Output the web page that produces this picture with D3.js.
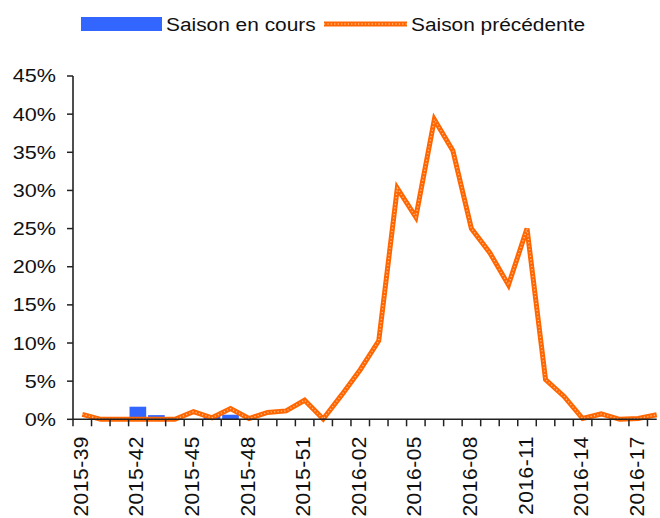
<!DOCTYPE html>
<html>
<head>
<meta charset="utf-8">
<script src="https://cdn.jsdelivr.net/npm/d3@7"></script>
<style>
  html, body { margin: 0; padding: 0; background: #fff; }
  svg { display: block; font-family: "Liberation Sans", Arial, sans-serif; }
</style>
</head>
<body>
<svg id="chart" width="660" height="518"></svg>
<script>
const weeks = [
  "2015-39","2015-40","2015-41","2015-42","2015-43","2015-44","2015-45","2015-46",
  "2015-47","2015-48","2015-49","2015-50","2015-51","2015-52","2016-01","2016-02",
  "2016-03","2016-04","2016-05","2016-06","2016-07","2016-08","2016-09","2016-10",
  "2016-11","2016-12","2016-13","2016-14","2016-15","2016-16","2016-17","2016-18"
];
// Saison en cours (%), only first weeks available
const currentSeason = [0, 0, 0, 1.65, 0.55, 0, 0, 0.5, 0.6, 0];
// Saison précédente (%)
const previousSeason = [
  0.65, 0, 0, 0, 0, 0, 1.0, 0.2, 1.4, 0.1, 0.9, 1.1, 2.5, 0.05, 3.2, 6.5,
  10.3, 30.3, 26.5, 39.3, 35.2, 25.0, 21.8, 17.6, 25.0, 5.2, 3.0, 0.1, 0.7, 0.0, 0.1, 0.6
];
const yTicks = [0, 5, 10, 15, 20, 25, 30, 35, 40, 45];
const labelEvery = 3;
const legendLabels = ["Saison en cours", "Saison précédente"];

const BLUE = "#3366FF";
const ORANGE = "#FF6600";
const DOTS = "#FFC9A0";
const AXIS = "#222";

const svg = d3.select("#chart");
const pLeft = 73, pRight = 666, pTop = 76, pBottom = 419.3;

const x = d3.scaleBand().domain(weeks).range([pLeft, pRight]).paddingInner(0).paddingOuter(0);
const y = d3.scaleLinear().domain([0, 45]).range([pBottom, pTop]);
const bw = x.bandwidth();
const cx = d => x(d) + bw / 2;

// Bars (current season)
const barW = bw * 0.9;
svg.append("g").selectAll("rect")
  .data(currentSeason.map((v, i) => ({ w: weeks[i], v })))
  .join("rect")
  .attr("x", d => cx(d.w) - barW / 2)
  .attr("y", d => y(d.v))
  .attr("width", barW)
  .attr("height", d => y(0) - y(d.v))
  .attr("fill", BLUE);

// Line (previous season)
const lineData = previousSeason.map((v, i) => ({ w: weeks[i], v }));
const line = d3.line().x(d => cx(d.w)).y(d => y(d.v));
svg.append("path").datum(lineData).attr("d", line)
  .attr("fill", "none").attr("stroke", ORANGE).attr("stroke-width", 5)
  .attr("stroke-linejoin", "miter");
svg.append("path").datum(lineData).attr("d", line)
  .attr("fill", "none").attr("stroke", DOTS).attr("stroke-width", 1.4)
  .attr("stroke-dasharray", "1.2 2.2").attr("opacity", 0.85);

// Y axis
const yAxis = svg.append("g");
yAxis.append("line").attr("x1", pLeft).attr("x2", pLeft).attr("y1", y(45)).attr("y2", y(0))
  .attr("stroke", AXIS).attr("stroke-width", 1.6);
yAxis.selectAll("line.tick").data(yTicks).join("line").attr("class", "tick")
  .attr("x1", pLeft - 6).attr("x2", pLeft).attr("y1", d => y(d)).attr("y2", d => y(d))
  .attr("stroke", AXIS).attr("stroke-width", 1.5);
yAxis.selectAll("text").data(yTicks).join("text")
  .attr("transform", d => `translate(56,${y(d)}) scale(1.2,1)`)
  .attr("text-anchor", "end").attr("dy", "0.36em")
  .attr("font-size", 18).attr("fill", "#111")
  .text(d => d + "%");

// X axis
const xAxis = svg.append("g");
xAxis.append("line").attr("x1", pLeft).attr("x2", cx(weeks[weeks.length - 1]))
  .attr("y1", pBottom).attr("y2", pBottom).attr("stroke", AXIS).attr("stroke-width", 1.6);
xAxis.selectAll("line.tick").data(weeks).join("line").attr("class", "tick")
  .attr("x1", d => x(d)).attr("x2", d => x(d))
  .attr("y1", pBottom).attr("y2", pBottom + 7)
  .attr("stroke", AXIS).attr("stroke-width", 1.5);
xAxis.selectAll("text").data(weeks.filter((d, i) => i % labelEvery === 0)).join("text")
  .attr("transform", d => `translate(${cx(d) + 5.5},436) rotate(-90)`)
  .attr("text-anchor", "end")
  .attr("font-size", 21).attr("letter-spacing", "0.5px").attr("fill", "#111")
  .text(d => d);

// Legend
const lg = svg.append("g");
lg.append("rect").attr("x", 81).attr("y", 17).attr("width", 81).attr("height", 14).attr("fill", BLUE);
lg.append("text").attr("transform", "translate(166,31) scale(1.16,1)")
  .attr("font-size", 18).attr("fill", "#111").text(legendLabels[0]);
lg.append("line").attr("x1", 324).attr("x2", 407).attr("y1", 24).attr("y2", 24)
  .attr("stroke", ORANGE).attr("stroke-width", 5);
lg.append("line").attr("x1", 324).attr("x2", 407).attr("y1", 24).attr("y2", 24)
  .attr("stroke", DOTS).attr("stroke-width", 1.4).attr("stroke-dasharray", "1.2 2.2").attr("opacity", 0.85);
lg.append("text").attr("transform", "translate(411,31) scale(1.16,1)")
  .attr("font-size", 18).attr("fill", "#111").text(legendLabels[1]);
</script>
</body>
</html>
